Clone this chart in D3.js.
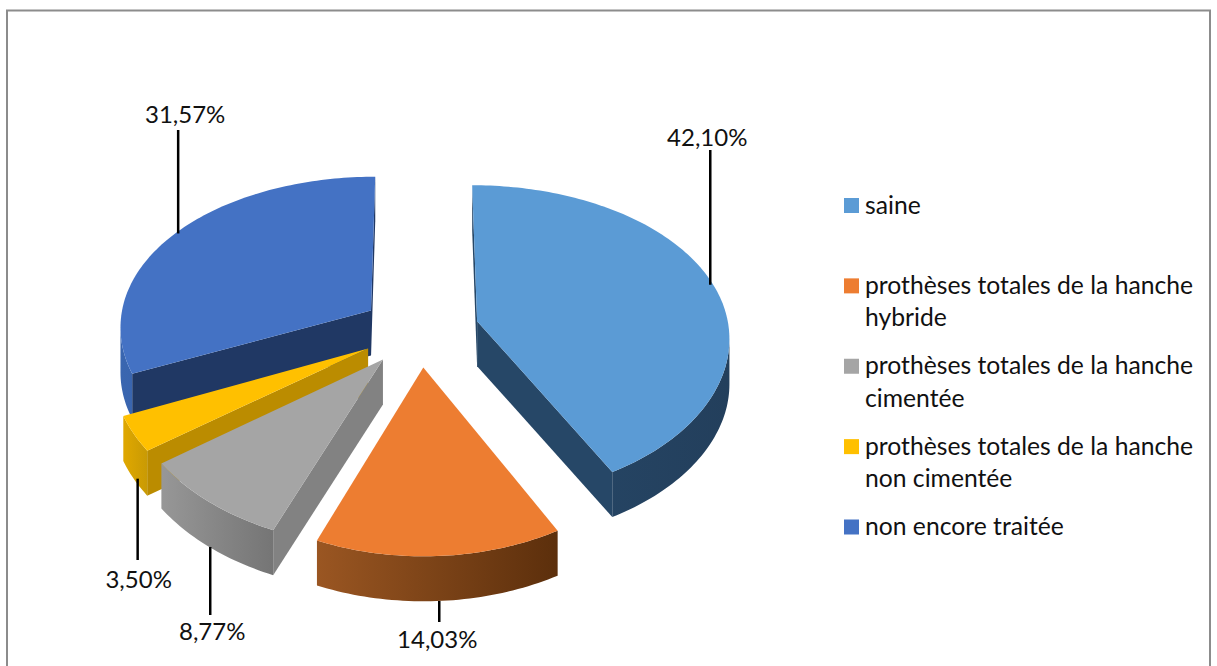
<!DOCTYPE html>
<html lang="fr">
<head>
<meta charset="utf-8">
<script src="https://cdn.jsdelivr.net/npm/d3@7.9.0/dist/d3.min.js"></script>
<style>
  html, body { margin: 0; padding: 0; background: #fff; overflow: hidden; }
  svg { display: block; font-family: Lato, "Open Sans", sans-serif; }
</style>
</head>
<body>
<svg id="chart" width="1217" height="666"></svg>
<script>
// values
const categories = [
  'saine',
  'prothèses totales de la hanche hybride',
  'prothèses totales de la hanche cimentée',
  'prothèses totales de la hanche non cimentée',
  'non encore traitée'
];
const values = [42.10, 14.03, 8.77, 3.50, 31.57];
const valueLabels = ['42,10%', '14,03%', '8,77%', '3,50%', '31,57%'];
const legendLines = [
  ['saine'],
  ['prothèses totales de la hanche', 'hybride'],
  ['prothèses totales de la hanche', 'cimentée'],
  ['prothèses totales de la hanche', 'non cimentée'],
  ['non encore traitée']
];

const topColors = ['#5b9bd5', '#ed7d31', '#a5a5a5', '#ffc000', '#4472c4'];
const cutColors = ['#264767', '#8e4b1c', '#828282', '#bb8c00', '#203864'];
const wallFrom = ['#27496a', '#9a5622', '#979797', '#e0a800', '#3a66b0'];
const wallTo = ['#233f5c', '#5c2f0c', '#757575', '#c99a04', '#2c4f8f'];

const svg = d3.select('#chart');

// frame
svg.append('rect')
  .attr('x', 7).attr('y', 10.5)
  .attr('width', 1203).attr('height', 700)
  .attr('fill', 'none').attr('stroke', '#8c8c8c').attr('stroke-width', 2);

// tilted pie, seen in perspective
const cx = 420, cy = 330, rx = 252, ry = 155, kx = 0.095, ky = 0.125;
const explode = 0.235, depth = 45;

function project(u, v, z) {
  return [cx + rx * u / (1 - kx * v), cy + ry * v / (1 - ky * v) + depth * z];
}

// point on the rim of a slice, angle clockwise from the top
function rimPoint(angle, r, z) {
  let mid = angle.mid;
  let u = explode * Math.sin(mid) + r * Math.sin(angle.a);
  let v = -explode * Math.cos(mid) - r * Math.cos(angle.a);
  return project(u, v, z);
}

const slices = d3.pie().sort(null).value(d => d)(values);
const line = d3.line();

const defs = svg.append('defs');
slices.forEach((d, i) => {
  let grad = defs.append('linearGradient')
    .attr('id', 'wall' + i)
    .attr('gradientUnits', 'userSpaceOnUse');
  let mid = (d.startAngle + d.endAngle) / 2;
  let pts = d3.range(0, 21).map(t => {
    let a = d.startAngle + (d.endAngle - d.startAngle) * t / 20;
    return rimPoint({ a, mid }, 1, 0)[0];
  });
  grad.attr('x1', d3.min(pts)).attr('x2', d3.max(pts)).attr('y1', 0).attr('y2', 0);
  grad.append('stop').attr('offset', 0).attr('stop-color', wallFrom[i]);
  grad.append('stop').attr('offset', 1).attr('stop-color', wallTo[i]);
});

// back slices first
const drawOrder = [4, 3, 2, 1, 0];

drawOrder.forEach(i => {
  let d = slices[i];
  let mid = (d.startAngle + d.endAngle) / 2;
  let steps = Math.ceil((d.endAngle - d.startAngle) / 0.02);
  let angles = d3.range(0, steps + 1).map(t => d.startAngle + (d.endAngle - d.startAngle) * t / steps);

  let g = svg.append('g').attr('class', 'slice');
  let apexTop = rimPoint({ a: 0, mid }, 0, 0);
  let apexLow = rimPoint({ a: 0, mid }, 0, 1);
  let rimTop = angles.map(a => rimPoint({ a, mid }, 1, 0));
  let rimLow = angles.map(a => rimPoint({ a, mid }, 1, 1));

  // the two cut faces, only if they look toward the viewer
  [[apexTop, rimTop[0], rimLow[0], apexLow],
   [rimTop[steps], apexTop, apexLow, rimLow[steps]]].forEach(q => {
    if (q[1][0] < q[0][0]) {
      g.append('path')
        .attr('d', line(q) + 'Z')
        .attr('fill', cutColors[i]);
    }
  });

  // outer wall, only the stretch of rim that runs leftward is visible
  let visible = d3.range(0, steps).filter(t => rimTop[t + 1][0] < rimTop[t][0]);
  if (visible.length) {
    let first = visible[0], last = visible[visible.length - 1] + 1;
    let upper = rimTop.slice(first, last + 1);
    let lower = rimLow.slice(first, last + 1).reverse();
    g.append('path')
      .attr('d', line([...upper, ...lower]) + 'Z')
      .attr('fill', `url(#wall${i})`);
  }

  // top face
  g.append('path')
    .attr('d', line([apexTop, ...rimTop]) + 'Z')
    .attr('fill', topColors[i]);
});

// value labels with their leader lines
const leaderOnTop = [true, false, false, false, true];
const leaderEnd = [150, 622, 615, 560, 130];
const leaderShift = [-3, 0, 1, 4, 3];
const labelBaseline = [146, 648, 640, 588, 123];
const labelShift = [-3, -2, 2, 1, 7];

slices.forEach((d, i) => {
  let mid = (d.startAngle + d.endAngle) / 2;
  let p = rimPoint({ a: mid, mid }, 1, leaderOnTop[i] ? 0 : 1);
  let x = p[0] + leaderShift[i];
  svg.append('line')
    .attr('x1', x).attr('x2', x)
    .attr('y1', p[1]).attr('y2', leaderEnd[i])
    .attr('stroke', '#000').attr('stroke-width', 2.5);
  svg.append('text')
    .attr('x', x + labelShift[i]).attr('y', labelBaseline[i])
    .attr('text-anchor', 'middle')
    .attr('font-size', 24).attr('fill', '#111')
    .text(valueLabels[i]);
});

// legend
const legendY = d3.scalePoint().domain(categories).range([205.5, 527]);
categories.forEach((c, i) => {
  let y = legendY(c);
  svg.append('rect')
    .attr('x', 844).attr('y', y - 7.5)
    .attr('width', 15).attr('height', 15)
    .attr('fill', topColors[i]);
  legendLines[i].forEach((txt, j) => {
    svg.append('text')
      .attr('x', 865).attr('y', y + 8 + j * 32.5)
      .attr('font-size', 24.7).attr('fill', '#111')
      .text(txt);
  });
});
</script>
</body>
</html>
